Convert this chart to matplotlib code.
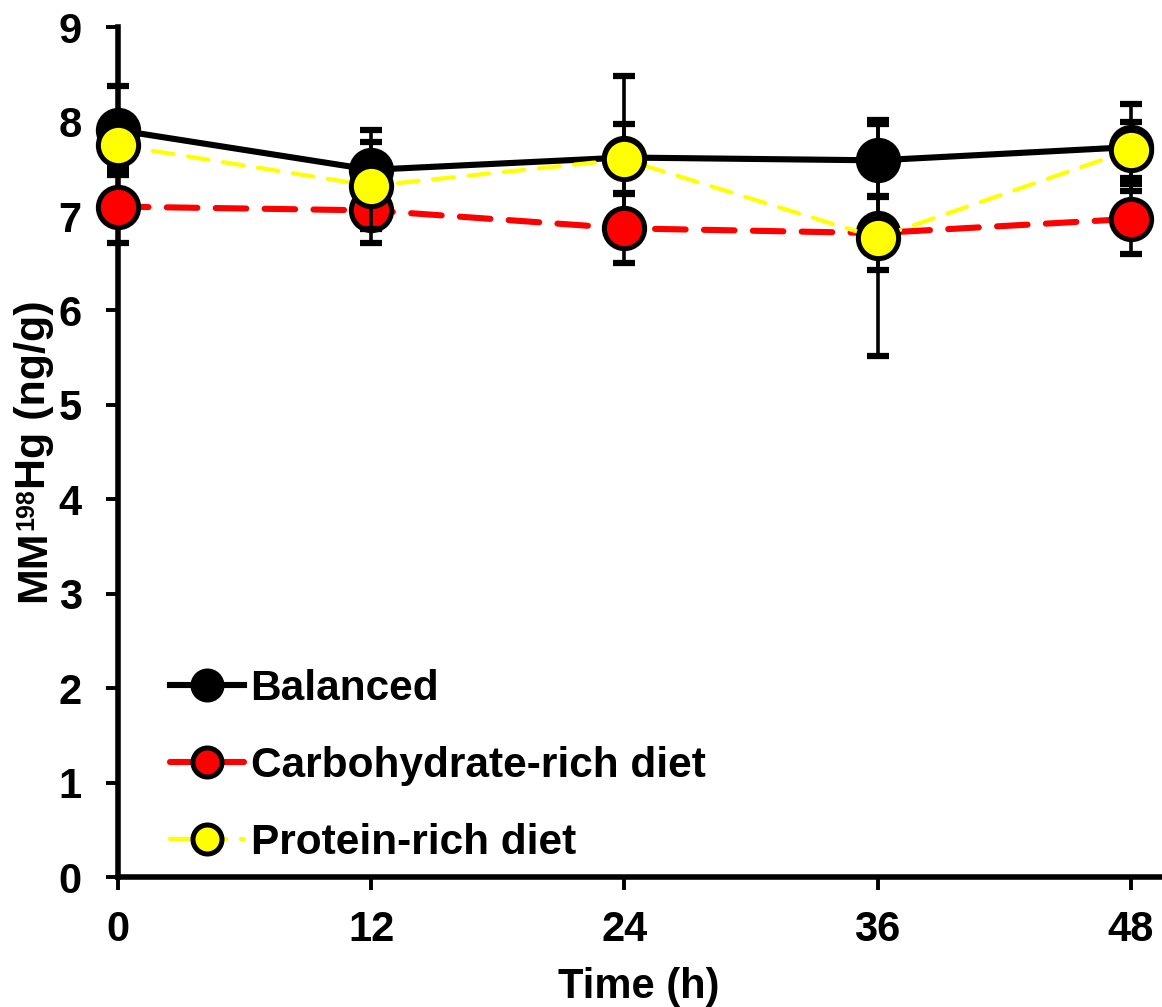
import numpy as np
import matplotlib
matplotlib.use('Agg')
import matplotlib.pyplot as plt

plt.rcParams['font.family'] = ['Liberation Sans', 'DejaVu Sans']
plt.rcParams['font.weight'] = 'bold'

# sampling times (h) and mean MM198Hg per diet with SD
time_h = [0, 12, 24, 36, 48]
balanced = [7.91, 7.49, 7.62, 7.59, 7.73]
balanced_sd = [0.47, 0.42, 0.86, 0.39, 0.46]
carb = [7.10, 7.06, 6.87, 6.82, 6.97]
carb_sd = [0.39, 0.35, 0.37, 0.39, 0.37]
protein = [7.75, 7.32, 7.60, 6.77, 7.70]
protein_sd = [0.23, 0.46, 0.37, 1.25, 0.30]

series = [
    ('Balanced', balanced, balanced_sd, 'black', '-', 4.4, None),
    ('Carbohydrate-rich diet', carb, carb_sd, '#ff0000', '--', 4.4, (5, 3)),
    ('Protein-rich diet', protein, protein_sd, '#ffff00', '--', 3.0, (5, 3.5)),
]

W, H = 1162, 1007
fig = plt.figure(figsize=(W / 100, H / 100), dpi=100)
ax = fig.add_axes([0.1015, 0.129, 0.897, 0.844])

for i, (name, vals, sd, col, ls, lw, dash) in enumerate(series):
    ax.errorbar(time_h, vals, yerr=sd, fmt='none', ecolor='black',
                elinewidth=2.6, capsize=8, capthick=4.5, zorder=2 + i * 2,
                clip_on=False)
    line, = ax.plot(time_h, vals, ls, color=col, lw=lw, marker='o',
                    markersize=29, markerfacecolor=col,
                    markeredgecolor='black', markeredgewidth=3.6,
                    label=name, zorder=3 + i * 2, clip_on=False)
    if dash is not None:
        line.set_dashes(dash)
        line.set_dash_capstyle('round')

ax.set_xlim(0, 49.4)
ax.set_ylim(0, 9)
ax.set_xticks(time_h)
ax.set_yticks(range(0, 10))

for s in ['top', 'right']:
    ax.spines[s].set_visible(False)
for s in ['left', 'bottom']:
    ax.spines[s].set_linewidth(4)

ax.tick_params(axis='both', direction='out', length=9, width=2.8,
               labelsize=30)
ax.tick_params(axis='x', pad=15)
ax.tick_params(axis='y', pad=17)

ax.set_xlabel('Time (h)', fontsize=30, fontweight='bold', labelpad=12)

# y label built from pieces so the isotope number sits as a small superscript
renderer = fig.canvas.get_renderer()
base_x = 45          # baseline, px from left
start_y = 602        # start of the label, px from top
pieces = [('MM', 31, 0), ('198', 18, 12), ('Hg (ng/g)', 31, 0)]
y = start_y
for txt, size, rise in pieces:
    t = fig.text((base_x - rise) / W, (H - y) / H, txt, fontsize=size,
                 fontweight='bold', rotation=90, rotation_mode='anchor',
                 ha='left', va='baseline')
    y -= t.get_window_extent(renderer).height

leg = ax.legend(loc='lower left', bbox_to_anchor=(0.05, 0.017), frameon=False,
                fontsize=30.5, markerscale=0.72, handlelength=1.75,
                handletextpad=0.15, labelspacing=0.87, borderpad=0,
                borderaxespad=0)
for t in leg.get_texts():
    t.set_fontweight('bold')

fig.savefig('out.png', dpi=100)
